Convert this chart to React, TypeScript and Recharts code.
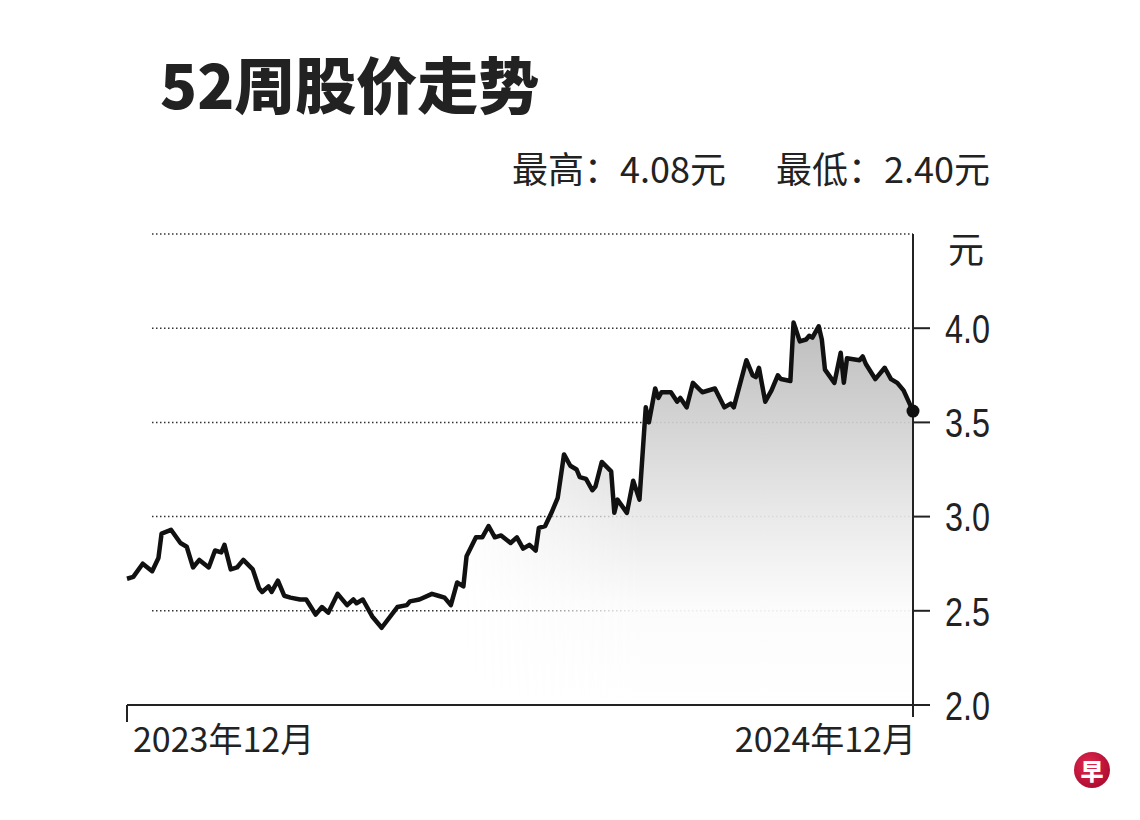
import { ComposedChart, Area, Line, XAxis, YAxis, CartesianGrid, ReferenceDot } from 'recharts'

// trading day index since 2023-12 and closing price (元)
const days = [
  0, 2, 5, 8, 10, 11, 14, 17, 19, 21,
  23, 26, 28, 30, 31, 33, 35, 37, 40, 42,
  43, 45, 46, 48, 50, 52, 55, 57, 60, 62,
  64, 67, 70, 72, 73, 75, 78, 81, 86, 89,
  90, 93, 97, 99, 101, 103, 105, 107, 108, 111,
  113, 115, 117, 119, 122, 124, 126, 128, 130, 131,
  133, 135, 137, 139, 141, 143, 144, 146, 148, 149,
  151, 154, 155, 156, 159, 161, 163, 165, 166, 168,
  169, 170, 173, 175, 176, 178, 180, 183, 187, 190,
  192, 193, 197, 199, 200, 201, 203, 205, 207, 208,
  211, 212, 214, 216, 217, 218, 220, 221, 222, 225,
  227, 228, 229, 233, 234, 235, 238, 241, 243, 245,
  247, 250,
]

const prices = [
  2.67, 2.68, 2.75, 2.71, 2.78, 2.91, 2.93, 2.86, 2.84, 2.73,
  2.77, 2.73, 2.82, 2.81, 2.85, 2.72, 2.73, 2.77, 2.72, 2.62,
  2.6, 2.63, 2.6, 2.66, 2.58, 2.57, 2.56, 2.56, 2.48, 2.52,
  2.49, 2.59, 2.53, 2.56, 2.54, 2.56, 2.47, 2.41, 2.52, 2.53,
  2.55, 2.56, 2.59, 2.58, 2.57, 2.53, 2.65, 2.63, 2.79, 2.89,
  2.89, 2.95, 2.89, 2.9, 2.86, 2.89, 2.83, 2.85, 2.82, 2.94,
  2.95, 3.02, 3.1, 3.33, 3.27, 3.25, 3.21, 3.2, 3.14, 3.16,
  3.29, 3.24, 3.02, 3.09, 3.02, 3.19, 3.09, 3.58, 3.5, 3.68,
  3.63, 3.66, 3.66, 3.61, 3.63, 3.58, 3.71, 3.66, 3.68, 3.58,
  3.6, 3.58, 3.83, 3.75, 3.74, 3.79, 3.61, 3.67, 3.75, 3.73,
  3.72, 4.03, 3.93, 3.94, 3.96, 3.95, 4.01, 3.94, 3.78, 3.71,
  3.87, 3.71, 3.84, 3.83, 3.85, 3.81, 3.73, 3.79, 3.73, 3.71,
  3.67, 3.56,
]

const yTicks = [2, 2.5, 3, 3.5, 4, 4.5]
const xTicks = [0, 250]
const xTickLabels = ['2023年12月', '2024年12月']
const unitLabel = '元'
const highLabel = '最高：4.08元'
const lowLabel = '最低：2.40元'
const title = '52周股价走势'

const data = days.map((d, i) => ({ day: d, price: prices[i] }))
const last = data[data.length - 1]

const CJK = "'Noto Sans CJK SC', 'Noto Sans', sans-serif"
const NARROW = "'Liberation Sans Narrow', 'Arial Narrow', 'Liberation Sans', Arial, sans-serif"
const INK = '#222'
const PLOT_BOTTOM = 705

function PriceTick(props: any) {
  const { x, y, payload } = props
  if (payload.value === 4.5) {
    return (
      <text x={x + 3} y={y + 13} dominantBaseline="central" fontFamily={CJK} fontSize={36} fill={INK}>
        {unitLabel}
      </text>
    )
  }
  return (
    <g>
      <line x1={x - 32} x2={x - 15} y1={y} y2={y} stroke={INK} strokeWidth={2} />
      <text
        x={x}
        y={y}
        dy="0.36em"
        fontFamily={NARROW}
        fontSize={41}
        fill={INK}
        textLength={45}
        lengthAdjust="spacingAndGlyphs"
      >
        {payload.value.toFixed(1)}
      </text>
    </g>
  )
}

function DateTick(props: any) {
  const { x, payload, index } = props
  const first = index === 0
  return (
    <g>
      <line x1={x} x2={x} y1={PLOT_BOTTOM} y2={PLOT_BOTTOM + (first ? 17 : 12)} stroke={INK} strokeWidth={2} />
      <text
        x={first ? x + 6 : x + 3}
        y={PLOT_BOTTOM + 47}
        textAnchor={first ? 'start' : 'end'}
        fontFamily={CJK}
        fontSize={34}
        fill={INK}
      >
        {xTickLabels[index]}
      </text>
    </g>
  )
}

export default function App() {
  return (
    <div style={{ position: 'absolute', left: 0, top: 0, width: 1140, height: 820, background: '#fff', overflow: 'hidden' }}>
      <div
        style={{
          position: 'absolute',
          left: 160,
          top: 46,
          fontFamily: CJK,
          fontWeight: 900,
          fontSize: 61,
          lineHeight: 1.2,
          color: INK,
          whiteSpace: 'nowrap',
        }}
      >
        {title}
      </div>
      <div
        style={{
          position: 'absolute',
          right: 150,
          top: 146,
          fontFamily: CJK,
          fontSize: 36,
          lineHeight: 1.2,
          color: INK,
          whiteSpace: 'nowrap',
        }}
      >
        <span>{highLabel}</span>
        <span style={{ marginLeft: 50 }}>{lowLabel}</span>
      </div>

      <div style={{ position: 'absolute', left: 0, top: 0 }}>
        <ComposedChart width={1140} height={820} data={data} margin={{ top: 234, right: 107, bottom: 55, left: 127 }}>
          <defs>
            <linearGradient id="priceFill" x1="0" y1="0" x2="0" y2="1">
              <stop offset="0%" stopColor="#b8b8b8" />
              <stop offset="28%" stopColor="#d2d2d2" />
              <stop offset="52%" stopColor="#e9e9e9" />
              <stop offset="74%" stopColor="#fbfbfb" />
              <stop offset="100%" stopColor="#ffffff" />
            </linearGradient>
            <linearGradient id="leftFade" x1="0" y1="0" x2="1" y2="0">
              <stop offset="0%" stopColor="#000" />
              <stop offset="40%" stopColor="#000" />
              <stop offset="48%" stopColor="#888" />
              <stop offset="56%" stopColor="#fff" />
              <stop offset="100%" stopColor="#fff" />
            </linearGradient>
            <mask id="fillMask" maskUnits="userSpaceOnUse" x={0} y={0} width={1140} height={820}>
              <rect x={0} y={0} width={1140} height={820} fill="url(#leftFade)" />
            </mask>
          </defs>
          <XAxis
            dataKey="day"
            type="number"
            domain={[0, 250]}
            ticks={xTicks}
            tick={<DateTick />}
            tickLine={false}
            axisLine={{ stroke: INK, strokeWidth: 2 }}
            height={60}
            interval={0}
          />
          <YAxis
            orientation="right"
            type="number"
            domain={[2, 4.5]}
            ticks={yTicks}
            tick={<PriceTick />}
            tickLine={false}
            tickSize={17}
            tickMargin={15}
            axisLine={{ stroke: INK, strokeWidth: 2 }}
            width={120}
            interval={0}
          />
          <Area
            type="linear"
            dataKey="price"
            baseValue={2}
            stroke="none"
            fill="url(#priceFill)"
            fillOpacity={0.92}
            mask="url(#fillMask)"
            dot={false}
            activeDot={false}
            isAnimationActive={false}
          />
          <CartesianGrid
            vertical={false}
            x={152}
            width={761}
            stroke="#333"
            strokeWidth={1.5}
            strokeDasharray="1.5 2.5"
          />
          <Line
            type="linear"
            dataKey="price"
            stroke="#111"
            strokeWidth={4.5}
            strokeLinejoin="round"
            dot={false}
            activeDot={false}
            isAnimationActive={false}
          />
          <ReferenceDot x={last.day} y={last.price} r={6.5} fill="#111" stroke="none" />
        </ComposedChart>
      </div>

      <div
        style={{
          position: 'absolute',
          left: 1074,
          top: 752,
          width: 36,
          height: 36,
          borderRadius: '50%',
          background: 'radial-gradient(circle at 40% 35%, #e0284f, #b30d33 70%, #8c0a28)',
          color: '#fff',
          fontFamily: CJK,
          fontWeight: 900,
          fontSize: 23,
          lineHeight: '36px',
          textAlign: 'center',
        }}
      >
        早
      </div>
    </div>
  )
}
